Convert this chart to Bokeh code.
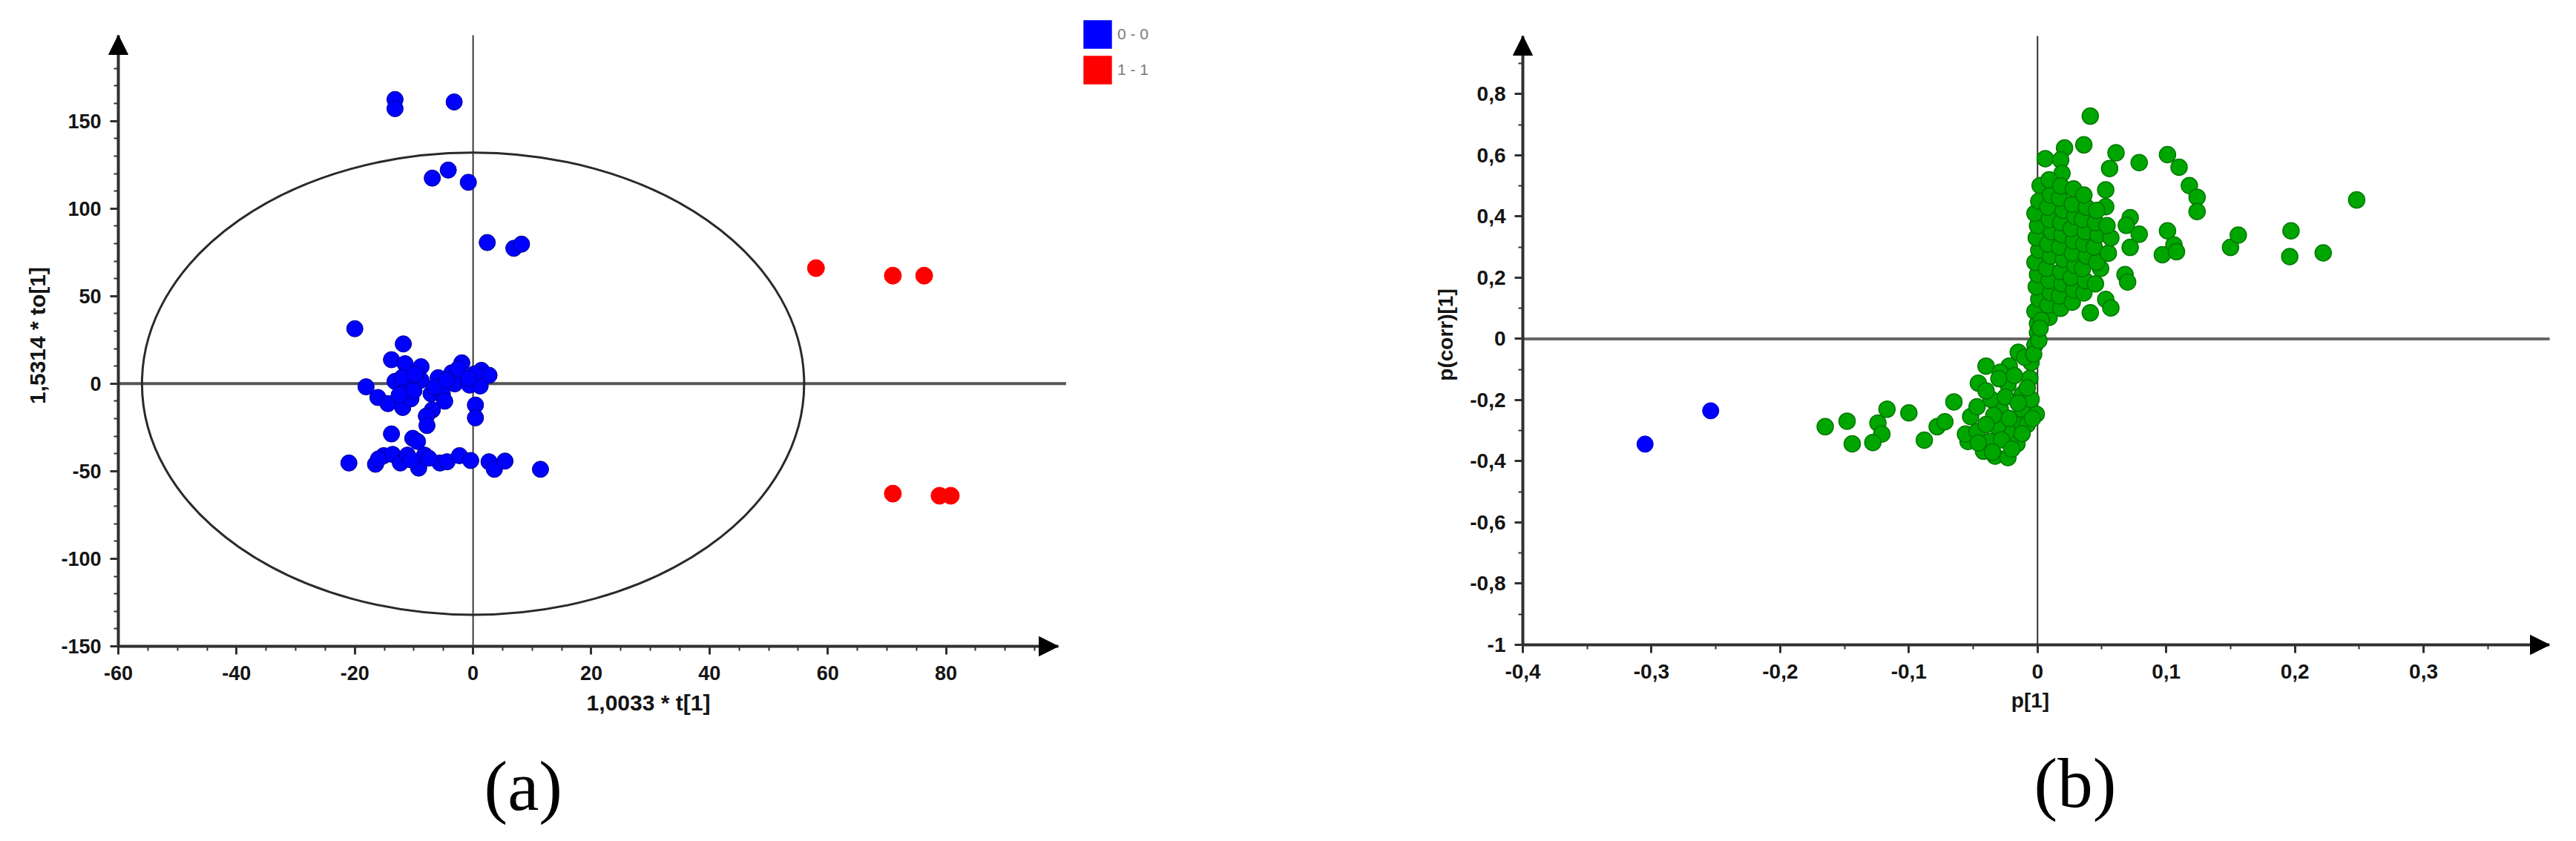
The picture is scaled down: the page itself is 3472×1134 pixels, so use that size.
from bokeh.plotting import figure
from bokeh.layouts import row
from bokeh.models import (Range1d, Arrow, NormalHead, Title, Legend, LegendItem, LinearAxis,
                          SingleIntervalTicker, CustomJSTickFormatter)
from bokeh.embed import file_html
from bokeh.resources import INLINE

# ---------------- Panel (a): OPLS-DA score plot ----------------
a_x_label = "1,0033 * t[1]"
a_y_label = "1,5314 * to[1]"
a_x_axis = (-60, 99)      # x extent of the drawn axis
a_y_axis = (-150, 199)    # y extent of the drawn axis
a_x_step, a_x_minor = 20, 4
a_y_step, a_y_minor = 50, 5
ellipse_x_semi = 56
ellipse_y_semi = 132
panel_a_tag = "(a)"

group0_label = "0 - 0"
group1_label = "1 - 1"

group0_x = [-13.2, -13.2, -3.2, -6.9, -4.2, -0.8, 2.4, 6.9, 8.2,
            -20.0, -11.8, -13.8, -11.5, -8.8, -1.9, 1.4, 2.7, -3.6, -5.9, -8.8, -13.2, -18.1,
            -11.3, -3.1, -0.6, 1.2, 0.2, -16.1, -14.4, -11.9, -10.5, -7.1, -5.2, -4.8, -6.9,
            -7.9, -7.8, 0.4, 0.4, -13.8, -10.2, -9.4,
            -12.0, -9.8, -6.5, -4.5, -2.5, -0.8, -10.0, -12.5,
            -21.0, -16.5, -15.1, -13.6, -12.3, -11.1, -9.2, -8.2, -5.6, -4.4, -2.3, -0.4,
            2.7, 3.6, 5.4, 11.4, -16.0, -10.5, -7.5]
group0_y = [162.3, 157.1, 160.9, 117.4, 122.0, 115.0, 80.6, 77.3, 79.7,
            31.4, 22.7, 13.7, 11.4, 9.7, 11.9, 7.6, 4.8, 6.2, 3.4, 2.0, 1.3, -1.8,
            -2.3, -0.1, -0.8, -1.3, 5.5, -7.9, -11.4, -13.6, -8.6, -5.8, -5.8, -10.0, -15.0,
            -18.5, -23.9, -12.2, -19.5, -28.7, -31.2, -33.0,
            3.5, 5.5, -2.0, 2.0, 8.5, 3.0, -4.0, -6.5,
            -45.3, -46.0, -41.1, -40.4, -45.3, -40.8, -48.2, -40.8, -45.3, -44.6, -41.1, -43.9,
            -44.6, -48.9, -44.2, -48.9, -43.0, -43.5, -42.5]

group1_x = [58.0, 71.0, 76.3, 71.0, 78.9, 80.8]
group1_y = [66.0, 61.7, 61.7, -62.8, -64.0, -64.0]

# ---------------- Panel (b): S-plot loadings ----------------
b_x_label = "p[1]"
b_y_label = "p(corr)[1]"
b_x_axis = (-0.4, 0.398)
b_y_axis = (-1.0, 0.99)
b_x_step, b_x_minor = 0.1, 2
b_y_step, b_y_minor = 0.2, 2
panel_b_tag = "(b)"

var_x = [0.041, 0.021, 0.036, 0.006, 0.018, 0.061, 0.056, 0.079, 0.101, 0.110, 0.118, 0.124,
         0.124, 0.002, 0.019, 0.053, 0.072, 0.069, 0.079, 0.072, 0.101, 0.106, 0.097, 0.108,
         0.150, 0.156, 0.068, 0.070, 0.049, 0.053, 0.057, 0.041, 0.053, 0.248, 0.197, 0.196, 0.222,
         0.000, -0.002, 0.001, -0.001, 0.000, -0.002, 0.001, -0.001, 0.000, -0.002, 0.001,
         0.009, 0.008, 0.010, 0.009, 0.007, 0.010, 0.008, 0.011, 0.009, 0.008, 0.010, 0.009,
         0.018, 0.017, 0.019, 0.018, 0.020, 0.017, 0.019, 0.018, 0.020, 0.017, 0.018,
         0.027, 0.028, 0.026, 0.029, 0.027, 0.028, 0.026, 0.029, 0.027, 0.028,
         0.036, 0.037, 0.035, 0.038, 0.036, 0.037, 0.035, 0.038, 0.036,
         0.045, 0.046, 0.044, 0.047, 0.045, 0.046,
         0.055, 0.057, 0.054,
         -0.165, -0.148, -0.144, -0.124, -0.117, -0.121, -0.128, -0.100, -0.088, -0.078, -0.072,
         -0.065, -0.046, -0.040, -0.022, -0.015, -0.002, 0.003, 0.000, -0.054, -0.033, -0.023,
         -0.042, -0.056, -0.052, -0.047, -0.029, -0.017, -0.006, -0.001, -0.012, -0.021, -0.023,
         -0.031, -0.037, -0.016, -0.012, -0.005, -0.005, -0.036, -0.047, -0.029,
         -0.010, -0.030, -0.018, -0.008, -0.040, -0.025, -0.015, -0.034, -0.022, -0.008,
         -0.040, -0.028, -0.012, -0.004, -0.046, -0.020, -0.035, -0.003, 0.001, 0.002]
var_y = [0.728, 0.624, 0.634, 0.589, 0.585, 0.608, 0.557, 0.576, 0.602, 0.561, 0.501, 0.463,
         0.416, 0.501, 0.541, 0.487, 0.396, 0.371, 0.342, 0.299, 0.353, 0.307, 0.275, 0.285,
         0.299, 0.339, 0.210, 0.186, 0.230, 0.129, 0.101, 0.085, 0.432, 0.454, 0.353, 0.269, 0.281,
         0.05, 0.09, 0.13, 0.17, 0.21, 0.25, 0.29, 0.33, 0.37, 0.41, 0.45,
         0.07, 0.11, 0.15, 0.19, 0.23, 0.27, 0.31, 0.35, 0.39, 0.43, 0.47, 0.52,
         0.10, 0.14, 0.18, 0.22, 0.26, 0.30, 0.34, 0.38, 0.42, 0.46, 0.50,
         0.12, 0.16, 0.20, 0.24, 0.28, 0.32, 0.36, 0.40, 0.44, 0.49,
         0.15, 0.19, 0.23, 0.27, 0.31, 0.35, 0.39, 0.43, 0.47,
         0.18, 0.25, 0.30, 0.34, 0.38, 0.42,
         0.28, 0.33, 0.37,
         -0.287, -0.269, -0.343, -0.275, -0.230, -0.311, -0.339, -0.242, -0.331, -0.287, -0.271,
         -0.206, -0.145, -0.089, -0.089, -0.044, -0.020, 0.061, 0.020, -0.335, -0.383, -0.388,
         -0.367, -0.311, -0.254, -0.303, -0.230, -0.266, -0.129, -0.246, -0.182, -0.311, -0.149,
         -0.287, -0.335, -0.343, -0.230, -0.077, -0.198, -0.198, -0.222, -0.109,
         -0.06, -0.13, -0.12, -0.16, -0.17, -0.19, -0.21, -0.25, -0.26, -0.28,
         -0.28, -0.33, -0.31, -0.26, -0.34, -0.36, -0.37, -0.05, -0.005, 0.035]

sel_x = [-0.305, -0.254]
sel_y = [-0.344, -0.235]

FONT = "Liberation Sans"
TXT = "#141414"
AXC = "#303030"
PAD = 16          # px of empty frame kept outside the drawn axes
TICK_OUT = 11
TOP_BORDER, BOTTOM_BORDER = 17, 223

int_fmt = CustomJSTickFormatter(code="return Math.round(tick).toString();")
comma_fmt = CustomJSTickFormatter(code="""
var v = Math.round(tick * 10) / 10;
if (Math.abs(v) < 1e-9) { return '0'; }
return v.toString().replace('.', ',');
""")
blank_fmt = CustomJSTickFormatter(code="return '';")


def label_axis(ax, ticker, fmt, bounds, tick_size, label_size, label, lab_standoff, ax_standoff):
    """Axis at the frame edge: carries only the tick labels and the axis title."""
    ax.ticker = ticker
    ax.formatter = fmt
    ax.bounds = bounds
    ax.axis_label = label
    ax.axis_line_alpha = 0
    ax.major_tick_out = 0
    ax.major_tick_in = 0
    ax.minor_tick_out = 0
    ax.minor_tick_in = 0
    ax.major_tick_line_alpha = 0
    ax.minor_tick_line_alpha = 0
    ax.major_label_text_font = FONT
    ax.major_label_text_font_style = "bold"
    ax.major_label_text_font_size = tick_size
    ax.major_label_text_color = TXT
    ax.major_label_standoff = lab_standoff
    ax.axis_label_text_font = FONT
    ax.axis_label_text_font_style = "bold"
    ax.axis_label_text_font_size = label_size
    ax.axis_label_text_color = TXT
    ax.axis_label_standoff = ax_standoff


def line_axis(ticker, loc, bounds):
    """Axis drawn at its data position: line and ticks only."""
    return LinearAxis(ticker=ticker, formatter=blank_fmt, fixed_location=loc, bounds=bounds,
                      axis_line_color=AXC, axis_line_width=4,
                      major_tick_line_color=AXC, major_tick_line_width=3,
                      minor_tick_line_color=AXC, minor_tick_line_width=2,
                      major_tick_out=TICK_OUT, major_tick_in=0, minor_tick_out=6, minor_tick_in=0,
                      major_label_text_font_size="1px")


def add_arrows(p, xa, ya, hx, hy):
    head = dict(size=26, fill_color="black", line_color="black", line_width=1)
    p.add_layout(Arrow(end=NormalHead(**head), x_start=xa[0], y_start=ya[1] - hy,
                       x_end=xa[0], y_end=ya[1], line_alpha=0))
    p.add_layout(Arrow(end=NormalHead(**head), x_start=xa[1] - hx, y_start=ya[0],
                       x_end=xa[1], y_end=ya[0], line_alpha=0))


def tag_title(text, offset):
    return Title(text=text, align="left", offset=offset, standoff=77,
                 text_font="Liberation Serif", text_font_size="95px",
                 text_font_style="normal", text_color="black")


# ---------- figure (a) ----------
a_xpx, a_ypx = 7.969, 2.36
A_RIGHT_EXTRA, A_TOP_EXTRA = 178, 30          # frame room kept for the legend
a_xr = (a_x_axis[0] - PAD / a_xpx, a_x_axis[1] + A_RIGHT_EXTRA / a_xpx)
a_yr = (a_y_axis[0] - PAD / a_ypx, a_y_axis[1] + A_TOP_EXTRA / a_ypx)
a_fw = round((a_xr[1] - a_xr[0]) * a_xpx)
a_fh = round((a_yr[1] - a_yr[0]) * a_ypx)
p1 = figure(x_range=Range1d(*a_xr), y_range=Range1d(*a_yr),
            frame_width=a_fw, frame_height=a_fh,
            min_border_left=143, min_border_right=8,
            min_border_top=TOP_BORDER, min_border_bottom=BOTTOM_BORDER,
            output_backend="svg", toolbar_location=None, outline_line_color=None,
            background_fill_color="white", border_fill_color="white")
p1.grid.visible = False
label_axis(p1.xaxis[0], SingleIntervalTicker(interval=a_x_step, num_minor_ticks=a_x_minor), int_fmt,
           a_x_axis, "27px", "30px", a_x_label, TICK_OUT + 15 - PAD, 11)
label_axis(p1.yaxis[0], SingleIntervalTicker(interval=a_y_step, num_minor_ticks=a_y_minor), int_fmt,
           a_y_axis, "27px", "30px", a_y_label, TICK_OUT + 12 - PAD, 12)
p1.add_layout(tag_title(panel_a_tag, 509), "below")
p1.add_layout(line_axis(SingleIntervalTicker(interval=a_x_step, num_minor_ticks=a_x_minor),
                        a_y_axis[0], a_x_axis), "below")
p1.add_layout(line_axis(SingleIntervalTicker(interval=a_y_step, num_minor_ticks=a_y_minor),
                        a_x_axis[0], a_y_axis), "left")

p1.segment(x0=[a_x_axis[0]], y0=[0], x1=[a_x_axis[1] + 1.3], y1=[0], line_color="#555555", line_width=4)
p1.segment(x0=[0], y0=[a_y_axis[0]], x1=[0], y1=[a_y_axis[1]], line_color="#3a3a3a", line_width=2)
p1.ellipse(x=[0], y=[0], width=[2 * ellipse_x_semi], height=[2 * ellipse_y_semi],
           fill_color=None, line_color="#2a2a2a", line_width=3)

p1.scatter(group0_x, group0_y, size=22, fill_color="#0000ff", line_color="#00008b", line_width=1)
p1.scatter(group1_x, group1_y, size=23, fill_color="#ff0000", line_color="#ff0000", line_width=1)
add_arrows(p1, a_x_axis, a_y_axis, 4, 10)

# zero-area squares on the group points: they only supply the square legend swatches
q0 = p1.quad(left=group0_x, right=group0_x, top=group0_y, bottom=group0_y,
             fill_color="#0000ff", line_alpha=0)
q1 = p1.quad(left=group1_x, right=group1_x, top=group1_y, bottom=group1_y,
             fill_color="#ff0000", line_alpha=0)
leg = Legend(items=[LegendItem(label=group0_label, renderers=[q0]),
                    LegendItem(label=group1_label, renderers=[q1])],
             location=(1312, a_fh - 5 - 96), glyph_width=48, glyph_height=48, label_height=48,
             spacing=0, padding=0, margin=0, label_standoff=3,
             border_line_color=None, background_fill_alpha=0,
             label_text_font="Liberation Sans", label_text_font_size="21px",
             label_text_color="#7a7a7a")
p1.add_layout(leg, "center")

# ---------- figure (b) ----------
b_xpx, b_ypx = 1734.0, 412.8
B_TOP_EXTRA = 31
b_xr = (b_x_axis[0] - PAD / b_xpx, b_x_axis[1])
b_yr = (b_y_axis[0] - PAD / b_ypx, b_y_axis[1] + B_TOP_EXTRA / b_ypx)
b_fw = round((b_xr[1] - b_xr[0]) * b_xpx)
b_fh = round((b_yr[1] - b_yr[0]) * b_ypx)
p2 = figure(x_range=Range1d(*b_xr), y_range=Range1d(*b_yr),
            frame_width=b_fw, frame_height=b_fh,
            min_border_left=424, min_border_right=16,
            min_border_top=TOP_BORDER, min_border_bottom=BOTTOM_BORDER,
            output_backend="svg", toolbar_location=None, outline_line_color=None,
            background_fill_color="white", border_fill_color="white")
p2.grid.visible = False
label_axis(p2.xaxis[0], SingleIntervalTicker(interval=b_x_step, num_minor_ticks=b_x_minor), comma_fmt,
           b_x_axis, "28px", "28px", b_x_label, TICK_OUT + 15 - PAD, 11)
label_axis(p2.yaxis[0], SingleIntervalTicker(interval=b_y_step, num_minor_ticks=b_y_minor), comma_fmt,
           b_y_axis, "28px", "28px", b_y_label, TICK_OUT + 12 - PAD, 14)
p2.add_layout(tag_title(panel_b_tag, 705), "below")
p2.add_layout(line_axis(SingleIntervalTicker(interval=b_x_step, num_minor_ticks=b_x_minor),
                        b_y_axis[0], b_x_axis), "below")
p2.add_layout(line_axis(SingleIntervalTicker(interval=b_y_step, num_minor_ticks=b_y_minor),
                        b_x_axis[0], b_y_axis), "left")

p2.segment(x0=[b_x_axis[0]], y0=[0], x1=[b_x_axis[1] + 0.01], y1=[0], line_color="#666666", line_width=4)
p2.segment(x0=[0], y0=[b_y_axis[0]], x1=[0], y1=[b_y_axis[1]], line_color="#333333", line_width=2)

p2.scatter(var_x, var_y, size=22, fill_color="#00a600", line_color="#007800", line_width=1.5)
p2.scatter(sel_x, sel_y, size=22, fill_color="#0000ff", line_color="#0000cc", line_width=1)
add_arrows(p2, b_x_axis, b_y_axis, 0.02, 0.05)

layout = row(p1, p2)
open("out.html", "w").write(file_html(layout, INLINE))
